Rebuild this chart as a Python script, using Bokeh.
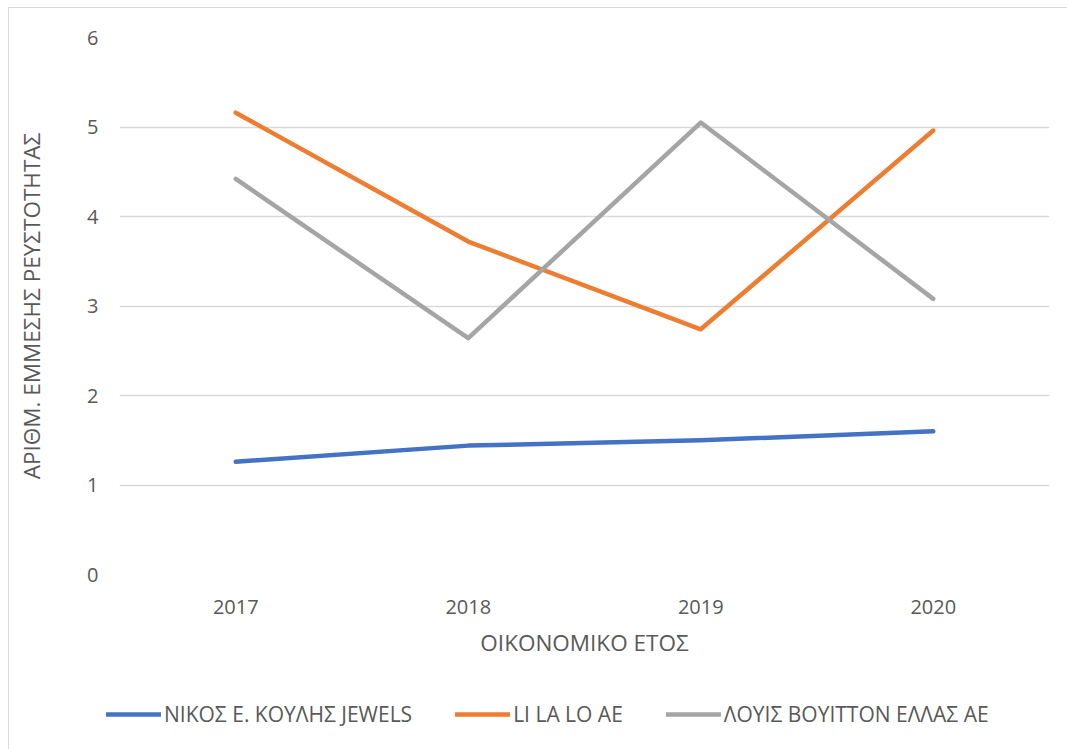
from bokeh.plotting import figure
from bokeh.layouts import column
from bokeh.models import FactorRange, Range1d, Legend, LegendItem, SingleIntervalTicker
from bokeh.embed import file_html
from bokeh.resources import INLINE

years = ["2017", "2018", "2019", "2020"]
nikos = [1.26, 1.44, 1.50, 1.60]
lilalo = [5.16, 3.72, 2.74, 4.96]
louis = [4.42, 2.64, 5.05, 3.08]
series_names = ["ΝΙΚΟΣ Ε. ΚΟΥΛΗΣ JEWELS", "LI LA LO AE", "ΛΟΥΙΣ ΒΟΥΙΤΤΟΝ ΕΛΛΑΣ ΑΕ"]
colors = ["#4472C4", "#ED7D31", "#A5A5A5"]

FONT = "Open Sans"
TXT = "#595959"
W = 1059

p = figure(x_range=FactorRange(*years), y_range=Range1d(0, 6),
           width=W, height=671, output_backend="svg", toolbar_location=None,
           min_border_left=110, min_border_right=19, min_border_top=29,
           min_border_bottom=105)
p.frame_align = False
p.outline_line_color = None
p.background_fill_color = "white"
p.border_fill_color = "white"

p.xgrid.grid_line_color = None
p.ygrid.grid_line_color = "#D9D9D9"
p.ygrid.grid_line_width = 1.5
p.yaxis.ticker = SingleIntervalTicker(interval=1)

for ax in (p.xaxis[0], p.yaxis[0]):
    ax.axis_line_color = None
    ax.major_tick_line_color = None
    ax.minor_tick_line_color = None
    ax.major_label_text_font = FONT
    ax.major_label_text_color = TXT
    ax.major_label_text_font_size = "20px"
    ax.axis_label_text_font = FONT
    ax.axis_label_text_color = TXT
    ax.axis_label_text_font_size = "22.5px"
    ax.axis_label_text_font_style = "normal"

p.xaxis.axis_label = "ΟΙΚΟΝΟΜΙΚΟ ΕΤΟΣ"
p.yaxis.axis_label = "ΑΡΙΘΜ. ΕΜΜΕΣΗΣ ΡΕΥΣΤΟΤΗΤΑΣ"
p.xaxis.major_label_standoff = 19
p.xaxis.axis_label_standoff = 10
p.yaxis.major_label_standoff = 15
p.yaxis.axis_label_standoff = 37

for vals, c in zip([nikos, lilalo, louis], colors):
    p.line(years, vals, line_color=c, line_width=4.5, line_cap="round", line_join="round")

# legend strip
p2 = figure(x_range=FactorRange(*years), y_range=Range1d(100, 101),
            x_axis_type=None, y_axis_type=None,
            width=W, height=70, output_backend="svg", toolbar_location=None,
            min_border=0, min_border_left=0, min_border_right=0,
            min_border_top=0, min_border_bottom=0)
p2.frame_align = False
p2.grid.visible = False
p2.outline_line_color = None
p2.border_fill_color = "white"
items = []
for vals, name, c in zip([nikos, lilalo, louis], series_names, colors):
    r = p2.line(years, vals, line_color=c, line_width=4.5, line_cap="round")
    items.append(LegendItem(label=name, renderers=[r]))
legend = Legend(items=items, orientation="horizontal", location=(97, 21),
                label_text_font=FONT, label_text_color=TXT, label_text_font_size="21px",
                glyph_width=55, glyph_height=24, label_standoff=3, spacing=43,
                border_line_color=None, background_fill_alpha=0,
                margin=0, padding=0)
p2.add_layout(legend, "center")

layout = column(p, p2, spacing=0)
layout.styles = {"border": "1px solid #D9D9D9", "margin-left": "8px", "margin-top": "7px"}

open("out.html", "w").write(file_html(layout, INLINE))
